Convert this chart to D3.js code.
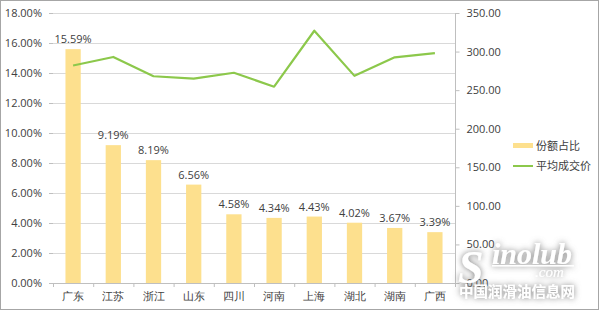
<!DOCTYPE html>
<html><head><meta charset="utf-8">
<script src="https://cdn.jsdelivr.net/npm/d3@7"></script>
<style>
html,body{margin:0;padding:0;background:#fff;}
svg{display:block;font-family:"Noto Sans CJK SC","Open Sans",sans-serif;}
</style></head>
<body>
<svg id="c" width="600" height="313"></svg>
<script>
const categories = ["广东","江苏","浙江","山东","四川","河南","上海","湖北","湖南","广西"];
const shareValues = [15.59, 9.19, 8.19, 6.56, 4.58, 4.34, 4.43, 4.02, 3.67, 3.39];
const priceValues = [282, 293, 268, 265, 272.5, 254.5, 327, 268.5, 292.5, 298];
const leftTicks = [0,2,4,6,8,10,12,14,16,18];
const rightTicks = [0,50,100,150,200,250,300,350];
const seriesNames = ["份额占比","平均成交价"];

(function(){
const svg = d3.select("#c");
const W = 600, H = 313;
const pL = 53, pR = 455, pT = 13, pB = 283;
const barColor = "#fde08e", lineColor = "#8cc84b", textColor = "#404040", gridColor = "#d9d9d9";

// outer frame
svg.append("rect").attr("x",0.5).attr("y",0.5).attr("width",W-2).attr("height",H-4)
  .attr("fill","#fff").attr("stroke","#a6a6a6").attr("stroke-width",1);

const x = d3.scaleBand().domain(categories).range([pL,pR]).paddingInner(0.62).paddingOuter(0.31);
const xb = d3.scaleBand().domain(categories).range([pL,pR]);
const yL = d3.scaleLinear().domain([0,18]).range([pB,pT]);
const yR = d3.scaleLinear().domain([0,350]).range([pB,pT]);

// gridlines
svg.append("g").selectAll("line").data(leftTicks.filter(d=>d>0)).join("line")
  .attr("x1",pL).attr("x2",pR)
  .attr("y1",d=>Math.round(yL(d))+0.5).attr("y2",d=>Math.round(yL(d))+0.5)
  .attr("stroke",gridColor).attr("stroke-width",1);

// left axis
const gL = svg.append("g").attr("transform",`translate(${pL},0)`)
  .call(d3.axisLeft(yL).tickValues(leftTicks).tickFormat(d=>d.toFixed(2)+"%").tickSize(4).tickPadding(7));
gL.select(".domain").remove();
gL.selectAll("line").attr("stroke","#bfbfbf");
gL.selectAll("text").attr("font-size",11).attr("fill",textColor).attr("font-family","'Open Sans',sans-serif");

// right axis
const gR = svg.append("g").attr("transform",`translate(${pR+0.5},0)`)
  .call(d3.axisRight(yR).tickValues(rightTicks).tickFormat(d=>d.toFixed(2)).tickSize(4).tickPadding(7));
gR.select(".domain").attr("stroke","#bfbfbf").attr("d",`M0,${pT}V${pB}`);
gR.selectAll("line").attr("stroke","#bfbfbf");
gR.selectAll("text").attr("font-size",11).attr("fill",textColor).attr("font-family","'Open Sans',sans-serif");

// bars
svg.append("g").selectAll("rect").data(categories).join("rect")
  .attr("x",(d)=>x(d)).attr("width",x.bandwidth())
  .attr("y",(d,i)=>yL(shareValues[i])).attr("height",(d,i)=>pB-yL(shareValues[i]))
  .attr("fill",barColor);

// bottom axis
const gB = svg.append("g").attr("transform",`translate(0,${pB+0.5})`)
  .call(d3.axisBottom(xb).tickSize(0).tickPadding(9));
gB.select(".domain").attr("stroke","#bfbfbf").attr("d",`M${pL},0H${pR}`);
gB.selectAll("text").attr("font-size",11).attr("fill",textColor);
svg.append("g").selectAll("line").data(categories.concat(["_end"])).join("line")
  .attr("x1",(d,i)=>pL+i*xb.step()+0.5).attr("x2",(d,i)=>pL+i*xb.step()+0.5)
  .attr("y1",pB).attr("y2",pB+4).attr("stroke","#bfbfbf");

// data labels
svg.append("g").selectAll("text").data(categories).join("text")
  .attr("x",d=>x(d)+x.bandwidth()/2).attr("y",(d,i)=>yL(shareValues[i])-6)
  .attr("text-anchor","middle").attr("font-size",11).attr("fill",textColor)
  .attr("font-family","'Open Sans',sans-serif")
  .text((d,i)=>shareValues[i].toFixed(2)+"%");

// line
const line = d3.line().x((d,i)=>xb(categories[i])+xb.bandwidth()/2).y(d=>yR(d));
svg.append("path").datum(priceValues).attr("d",line)
  .attr("fill","none").attr("stroke",lineColor).attr("stroke-width",2.2).attr("stroke-linejoin","round");

// legend
const lg = svg.append("g");
lg.append("rect").attr("x",513).attr("y",143).attr("width",20).attr("height",5).attr("fill",barColor);
lg.append("text").attr("x",536).attr("y",150).attr("font-size",11).attr("fill",textColor).text(seriesNames[0]);
lg.append("line").attr("x1",513).attr("x2",533).attr("y1",166).attr("y2",166).attr("stroke",lineColor).attr("stroke-width",2);
lg.append("text").attr("x",536).attr("y",170).attr("font-size",11).attr("fill",textColor).text(seriesNames[1]);

// watermark
const defs = svg.append("defs");
const f = defs.append("filter").attr("id","glow").attr("x","-30%").attr("y","-30%").attr("width","160%").attr("height","160%");
f.append("feGaussianBlur").attr("in","SourceAlpha").attr("stdDeviation",3).attr("result","b");
f.append("feFlood").attr("flood-color","#777").attr("result","c");
f.append("feComposite").attr("in","c").attr("in2","b").attr("operator","in").attr("result","s");
const fm = f.append("feMerge"); fm.append("feMergeNode").attr("in","s"); fm.append("feMergeNode").attr("in","SourceGraphic");
const wm = svg.append("g").attr("filter","url(#glow)").attr("fill","#fff");
wm.append("text").attr("x",458).attr("y",283).attr("font-size",46).attr("font-style","italic").attr("font-weight","bold").attr("font-family","'Liberation Serif',serif").text("S");
wm.append("text").attr("x",492).attr("y",264).attr("font-size",30).attr("font-style","italic").attr("font-weight","bold").attr("font-family","'Liberation Serif',serif").text("inolub");
wm.append("rect").attr("x",492).attr("y",265).attr("width",82).attr("height",1.5);
wm.append("text").attr("x",535).attr("y",277).attr("font-size",15).attr("font-style","italic").attr("font-family","'Liberation Serif',serif").text(".com");
wm.append("text").attr("x",459).attr("y",297).attr("font-size",14.5).attr("font-weight","bold").text("中国润滑油信息网");
})();
</script>
</body></html>
